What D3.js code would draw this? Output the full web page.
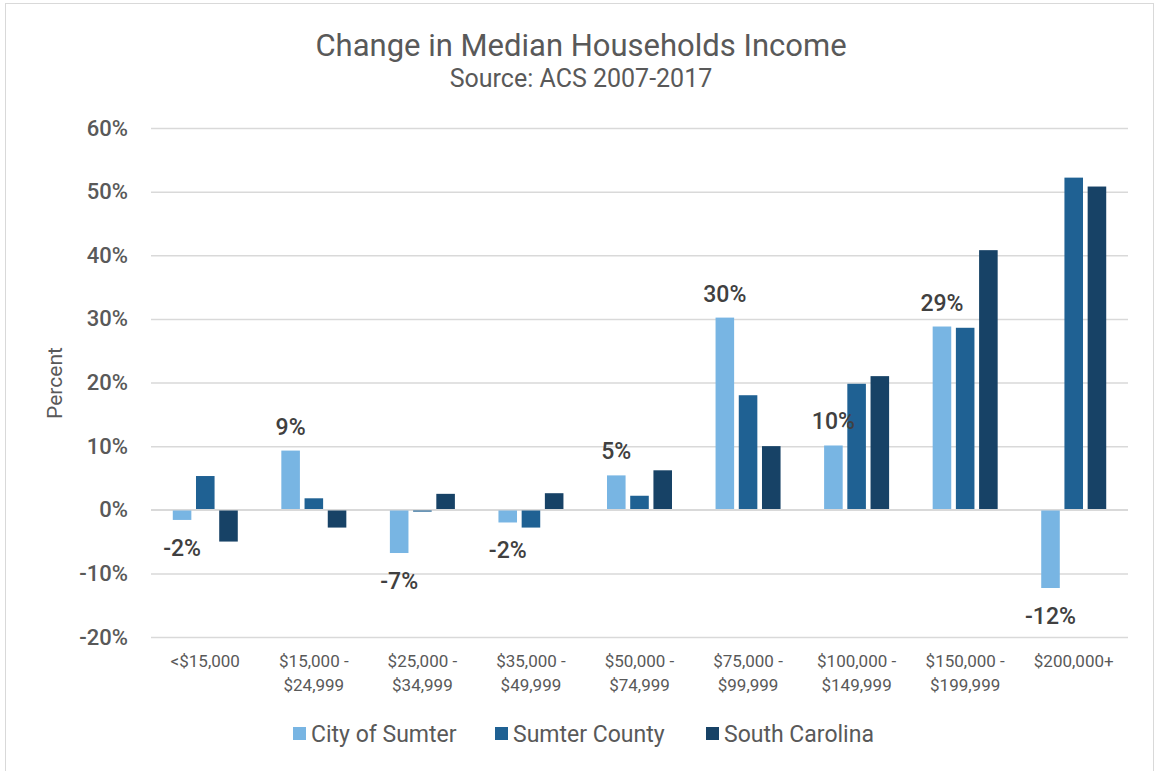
<!DOCTYPE html>
<html>
<head>
<meta charset="utf-8">
<script src="https://cdnjs.cloudflare.com/ajax/libs/d3/7.8.5/d3.min.js"></script>
<style>
  body { margin: 0; background: #fff; }
  text { font-family: Roboto, "Open Sans", sans-serif; }
</style>
</head>
<body>
<div id="chart"></div>
<script>
// data
const categories = ['<$15,000', '$15,000 - $24,999', '$25,000 - $34,999', '$35,000 - $49,999',
    '$50,000 - $74,999', '$75,000 - $99,999', '$100,000 - $149,999', '$150,000 - $199,999', '$200,000+'];
const seriesNames = ['City of Sumter', 'Sumter County', 'South Carolina'];
const citySumter = [-1.6, 9.3, -6.8, -2.0, 5.4, 30.2, 10.1, 28.8, -12.3];
const sumterCounty = [5.3, 1.8, -0.3, -2.8, 2.2, 18.0, 19.8, 28.6, 52.2];
const southCarolina = [-5.0, -2.8, 2.5, 2.6, 6.2, 10.0, 21.0, 40.8, 50.8];
const yTicks = [-20, -10, 0, 10, 20, 30, 40, 50, 60];
const colors = ['#78b5e3', '#1f6193', '#174266'];

const seriesValues = [citySumter, sumterCounty, southCarolina];
const W = 1156, H = 771;
const plot = { left: 151, right: 1128, top: 128, bottom: 637 };

const svg = d3.select('#chart').append('svg')
    .attr('width', W)
    .attr('height', H);

// outer chart border
svg.append('rect')
    .attr('x', 5.5).attr('y', 3.5)
    .attr('width', W - 8).attr('height', H)
    .attr('fill', 'none')
    .attr('stroke', '#d9d9d9');

// titles
svg.append('text')
    .attr('x', 581).attr('y', 56)
    .attr('text-anchor', 'middle')
    .attr('font-size', 31)
    .attr('fill', '#595959')
    .text('Change in Median Households Income');
svg.append('text')
    .attr('x', 581).attr('y', 87)
    .attr('text-anchor', 'middle')
    .attr('font-size', 25)
    .attr('fill', '#595959')
    .text('Source: ACS 2007-2017');

//-----Scales-------
let x0 = d3.scaleBand().domain(categories)
    .range([plot.left, plot.right]);

let inner = 65;
let x1 = d3.scaleBand().domain(seriesNames)
    .range([(x0.bandwidth() - inner) / 2, (x0.bandwidth() + inner) / 2])
    .paddingInner(0.2);

let y = d3.scaleLinear().domain([-20, 60])
    .range([plot.bottom, plot.top]);

//-----Y axis / grid-------
let yAxis = d3.axisLeft(y)
    .tickValues(yTicks)
    .tickSize(-(plot.right - plot.left))
    .tickPadding(23)
    .tickFormat(d => d + '%');

let yG = svg.append('g')
    .attr('transform', 'translate(' + plot.left + ',0)')
    .call(yAxis);
yG.select('.domain').remove();
yG.selectAll('line').attr('stroke', '#d9d9d9').attr('stroke-width', 1.5);
yG.selectAll('text')
    .attr('font-size', 22)
    .attr('font-weight', 500)
    .attr('fill', '#595959')
    .style('font-family', 'Roboto, sans-serif');

svg.append('text')
    .attr('transform', 'translate(62,383) rotate(-90)')
    .attr('text-anchor', 'middle')
    .attr('font-size', 21)
    .attr('fill', '#595959')
    .text('Percent');

//-----X labels-------
let xG = svg.append('g');
categories.forEach(function(c) {
    let parts = c.indexOf(' - ') > 0 ? [c.split(' - ')[0] + ' -', c.split(' - ')[1]] : [c];
    let t = xG.append('text')
        .attr('x', x0(c) + x0.bandwidth() / 2)
        .attr('y', 667)
        .attr('text-anchor', 'middle')
        .attr('font-size', 17)
        .attr('fill', '#595959');
    parts.forEach(function(p, i) {
        t.append('tspan')
            .attr('x', x0(c) + x0.bandwidth() / 2)
            .attr('dy', i === 0 ? 0 : 24)
            .text(p);
    });
});

//-----Bars-------
seriesNames.forEach(function(s, si) {
    svg.append('g').selectAll('rect')
        .data(seriesValues[si])
        .enter().append('rect')
            .attr('x', (d, i) => x0(categories[i]) + x1(s))
            .attr('width', x1.bandwidth())
            .attr('y', d => y(Math.max(0, d)))
            .attr('height', d => Math.abs(y(d) - y(0)))
            .attr('fill', colors[si]);
});

// zero line above bars
svg.append('line')
    .attr('x1', plot.left).attr('x2', plot.right)
    .attr('y1', y(0)).attr('y2', y(0))
    .attr('stroke', '#d9d9d9').attr('stroke-width', 1.5);

//-----Data labels (City of Sumter)-------
svg.append('g').selectAll('text')
    .data(citySumter)
    .enter().append('text')
        .attr('x', (d, i) => x0(categories[i]) + x1(seriesNames[0]) + x1.bandwidth() / 2)
        .attr('y', d => d >= 0 ? y(d) - 16 : y(d) + 36)
        .attr('text-anchor', 'middle')
        .attr('font-size', 23)
        .attr('font-weight', 500)
        .attr('fill', '#404040')
        .text(d => Math.round(d) + '%');

//-----Legend-------
const legendX = [293, 495, 706];
let lg = svg.append('g');
seriesNames.forEach(function(s, i) {
    lg.append('rect')
        .attr('x', legendX[i]).attr('y', 727)
        .attr('width', 13).attr('height', 13)
        .attr('fill', colors[i]);
    lg.append('text')
        .attr('x', legendX[i] + 18).attr('y', 742)
        .attr('font-size', 23)
        .attr('fill', '#595959')
        .text(s);
});
</script>
</body>
</html>
